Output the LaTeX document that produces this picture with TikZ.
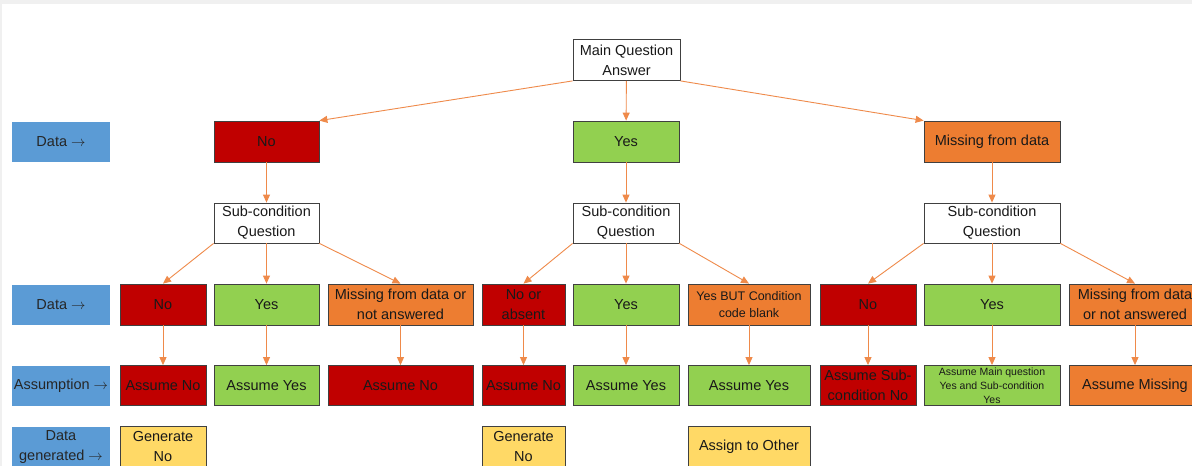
\documentclass[tikz,border=0pt]{standalone}
\usepackage{fontspec}
\setmainfont{Liberation Sans}
\usetikzlibrary{arrows.meta}

\definecolor{noRed}{HTML}{C00000}
\definecolor{yesGreen}{HTML}{92D050}
\definecolor{missOrange}{HTML}{ED7D31}
\definecolor{lineOrange}{HTML}{EF8A4A}
\definecolor{genYellow}{HTML}{FFD966}
\definecolor{tagBlue}{HTML}{5B9BD5}
\definecolor{boxLine}{HTML}{404040}

\begin{document}
\begin{tikzpicture}[x=1pt, y=-1pt,
    box/.style={rectangle, draw=boxLine, line width=0.8pt, inner sep=1pt, align=center,
      minimum height=41pt, text=black!90, font=\fontsize{14.5}{20}\selectfont},
    rowtag/.style={rectangle, fill=tagBlue, inner sep=1pt, align=center, minimum width=98pt,
      minimum height=40pt, text=black!85, font=\fontsize{14.5}{20}\selectfont},
    nobox/.style={box, fill=noRed},
    yesbox/.style={box, fill=yesGreen},
    missbox/.style={box, fill=missOrange},
    genbox/.style={box, fill=genYellow},
    askbox/.style={box, fill=white},
    flow/.style={every edge/.style={draw=lineOrange, line width=0.9pt,
      -{Triangle[length=8pt, width=7pt]}}}]
      \useasboundingbox (0,0) rectangle (1192,466);
      \clip (0,0) rectangle (1192,466);
      \fill[black!6] (0,0) rectangle (1192,466);
      \fill[white] (2,4) rectangle (1192,466);

      \node at(61,142) [rowtag] (tagA) {Data $\rightarrow$};
      \node at(61,305) [rowtag] (tagB) {Data $\rightarrow$};
      \node at(61,386) [rowtag] (tagC) {Assumption $\rightarrow$};
      \node at(61,447) [rowtag] (tagD) {Data\\generated $\rightarrow$};

      \node at(626.5,60) [askbox, minimum width=107pt] (main) {Main Question\\Answer};

      \node at(266.5,141.5) [nobox, minimum width=105pt] (no) {No};
      \node at(626,141.5) [yesbox, minimum width=106pt] (yes) {Yes};
      \node at(992,141.5) [missbox, minimum width=136pt] (miss) {Missing from data};

      \node at(266.5,223) [askbox, minimum width=105pt, minimum height=40pt] (subA) {Sub-condition\\Question};
      \node at(626,223) [askbox, minimum width=106pt, minimum height=40pt] (subB) {Sub-condition\\Question};
      \node at(992,223) [askbox, minimum width=136pt, minimum height=40pt] (subC) {Sub-condition\\Question};

      \node at(163,304.5) [nobox, minimum width=86pt] (aNo) {No};
      \node at(266.5,304.5) [yesbox, minimum width=105pt] (aYes) {Yes};
      \node at(400.5,304.5) [missbox, minimum width=145pt] (aMiss) {Missing from data or\\not answered};
      \node at(523.5,304.5) [nobox, minimum width=83pt] (bNo) {No or\\absent};
      \node at(626,304.5) [yesbox, minimum width=106pt] (bYes) {Yes};
      \node at(749,304.5) [missbox, minimum width=122pt, font=\fontsize{12.5}{17}\selectfont] (bBut) {Yes BUT Condition\\code blank};
      \node at(868,304.5) [nobox, minimum width=96pt] (cNo) {No};
      \node at(992,304.5) [yesbox, minimum width=136pt] (cYes) {Yes};
      \node at(1135,304.5) [missbox, minimum width=132pt] (cMiss) {Missing from data\\or not answered};

      \node at(163,385.5) [nobox, minimum width=86pt, minimum height=40pt] (aNoAs) {Assume No};
      \node at(266.5,385.5) [yesbox, minimum width=105pt, minimum height=40pt] (aYesAs) {Assume Yes};
      \node at(400.5,385.5) [nobox, minimum width=145pt, minimum height=40pt] (aMissAs) {Assume No};
      \node at(523.5,385.5) [nobox, minimum width=83pt, minimum height=40pt] (bNoAs) {Assume No};
      \node at(626,385.5) [yesbox, minimum width=106pt, minimum height=40pt] (bYesAs) {Assume Yes};
      \node at(749,385.5) [yesbox, minimum width=122pt, minimum height=40pt] (bButAs) {Assume Yes};
      \node at(868,385.5) [nobox, minimum width=96pt, minimum height=40pt] (cNoAs) {Assume Sub-\\condition No};
      \node at(992,385.5) [yesbox, minimum width=136pt, minimum height=40pt, font=\fontsize{10.5}{14}\selectfont] (cYesAs) {Assume Main question\\Yes and Sub-condition\\Yes};
      \node at(1135,385.5) [missbox, minimum width=132pt, minimum height=40pt] (cMissAs) {Assume Missing};

      \node at(163,446.5) [genbox, minimum width=86pt] (aGen) {Generate\\No};
      \node at(523.5,446.5) [genbox, minimum width=83pt] (bGen) {Generate\\No};
      \node at(749,446.5) [genbox, minimum width=122pt] (bOther) {Assign to Other};

      \path[flow]
      (main.south west) edge (no.north east)
      (main) edge (yes)
      (main.south east) edge (miss.north west)
      (no) edge (subA)
      (yes) edge (subB)
      (miss) edge (subC)
      (subA.south west) edge (aNo.north)
      (subA) edge (aYes)
      (subA.south east) edge (aMiss.north)
      (subB.south west) edge (bNo.north)
      (subB) edge (bYes)
      (subB.south east) edge (bBut.north)
      (subC.south west) edge (cNo.north)
      (subC) edge (cYes)
      (subC.south east) edge (cMiss.north)
      (aNo) edge (aNoAs)
      (aYes) edge (aYesAs)
      (aMiss) edge (aMissAs)
      (bNo) edge (bNoAs)
      (bYes) edge (bYesAs)
      (bBut) edge (bButAs)
      (cNo) edge (cNoAs)
      (cYes) edge (cYesAs)
      (cMiss) edge (cMissAs)
      ;
    \end{tikzpicture}
\end{document}
